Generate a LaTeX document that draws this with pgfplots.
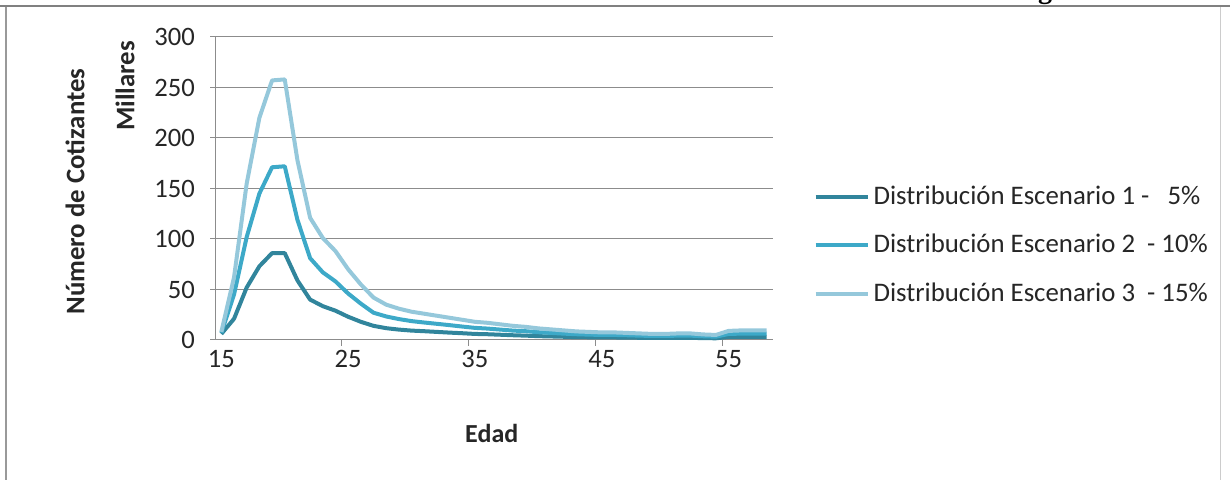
\documentclass[border=0pt]{standalone}
\usepackage{fontspec}
\setmainfont{Carlito}
\newfontfamily\titlefont{Liberation Serif}
\usepackage{pgfplots}
\pgfplotsset{compat=1.18}
\definecolor{sone}{HTML}{31859C}
\definecolor{stwo}{HTML}{3DA9C8}
\definecolor{sthree}{HTML}{95C8DB}
\definecolor{gridg}{HTML}{8C8C8C}
\begin{document}
\begin{tikzpicture}
\path[use as bounding box] (0,0) rectangle (615pt,240pt);
\begin{scope}
\clip (0,0) rectangle (615pt,240pt);
\node[anchor=base, font=\titlefont\bfseries\fontsize{14}{16}\selectfont, inner sep=0pt] at (522.5pt,240.8pt) {g};
\end{scope}
\draw[gray, line width=1.2pt] (0,237pt) -- (615pt,237pt);
\draw[gray!80, line width=0.8pt] (3pt,0) -- (3pt,236.5pt);
\draw[gray!40, line width=0.5pt] (610pt,0) -- (610pt,236.5pt);
\begin{axis}[
  at={(107.5pt,70pt)}, anchor=south west,
  scale only axis, width=279pt, height=151.5pt,
  xmin=14.5, xmax=58.5, ymin=0, ymax=300,
  axis lines=left, axis line style={-, draw=gridg, line width=0.5pt},
  xtick={15,25,35,45,55},
  minor xtick={24.5,34.5,44.5,54.5},
  ytick={0,50,100,150,200,250,300},
  tick align=outside, major tick length=2.5pt, minor tick length=3pt,
  major x tick style={draw=none},
  minor x tick style={draw=gridg, line width=0.5pt},
  major y tick style={draw=gridg, line width=0.5pt},
  ymajorgrids, major grid style={draw=gridg, line width=0.5pt},
  /pgf/number format/assume math mode=true,
  ticklabel style={font=\fontsize{13.3}{15}\selectfont, text=black!85},
  yticklabel style={xshift=-4pt},
  xticklabel style={yshift=1pt},
  clip=false,
  legend style={draw=none, fill=none, at={(1.072,0.313)}, anchor=west,
    font=\fontsize{13.4}{15}\selectfont, text=black!85, row sep=9.5pt, inner sep=0pt},
  legend cell align=left,
  legend image code/.code={\draw[#1, line width=2pt] (0pt,0pt) -- (26pt,0pt);},
  every axis plot/.append style={line width=2pt, line join=round},
]
\addplot[sone] coordinates {
(15,6)(16,21)(17,52)(18,73)(19,86)(20,86)(21,59)(22,40)(23,33.5)(24,29)(25,23)(26,18)(27,14)
(28,11.7)(29,10.3)(30,9.3)(31,8.7)(32,8)(33,7.3)(34,6.7)(35,6)(36,5.7)(37,5.2)(38,4.7)(39,4.3)
(40,3.8)(41,3.5)(42,3.2)(43,2.8)(44,2.7)(45,2.5)(46,2.5)(47,2.3)(48,2.2)(49,2)(50,2)
(51,2.2)(52,2.2)(53,1.8)(54,1.7)(55,3)(56,3.2)(57,3.2)(58,3.2)};
\addlegendentry{Distribución Escenario 1 -\ \ \ 5\%}
\addplot[stwo] coordinates {
(15,7)(16,45)(17,102)(18,145)(19,171)(20,172)(21,119)(22,81)(23,67)(24,58)(25,46)(26,36)(27,27)
(28,23.3)(29,20.7)(30,18.7)(31,17.3)(32,16)(33,14.7)(34,13.3)(35,12)(36,11.3)(37,10.3)(38,9.3)(39,8.7)
(40,7.7)(41,7)(42,6.3)(43,5.7)(44,5.3)(45,5)(46,5)(47,4.7)(48,4.3)(49,4)(50,4)
(51,4.3)(52,4.3)(53,3.7)(54,3.3)(55,6)(56,6.3)(57,6.3)(58,6.3)};
\addlegendentry{Distribución Escenario 2\ \ - 10\%}
\addplot[sthree] coordinates {
(15,8)(16,62)(17,155)(18,220)(19,257)(20,258)(21,178)(22,121)(23,101)(24,88)(25,70)(26,55)(27,42)
(28,35)(29,31)(30,28)(31,26)(32,24)(33,22)(34,20)(35,18)(36,17)(37,15.5)(38,14)(39,13)
(40,11.5)(41,10.5)(42,9.5)(43,8.5)(44,8)(45,7.5)(46,7.5)(47,7)(48,6.5)(49,6)(50,6)
(51,6.5)(52,6.5)(53,5.5)(54,5)(55,9)(56,9.5)(57,9.5)(58,9.5)};
\addlegendentry{Distribución Escenario 3\ \ - 15\%}
\node[rotate=90, font=\bfseries\fontsize{13.4}{15}\selectfont, text=black!85] at (rel axis cs:-0.251,0.49) {Número de Cotizantes};
\node[rotate=90, font=\bfseries\fontsize{13.4}{15}\selectfont, text=black!85] at (rel axis cs:-0.161,0.838) {Millares};
\node[font=\bfseries\fontsize{13}{15}\selectfont, text=black!85] at (rel axis cs:0.496,-0.31) {Edad};
\end{axis}
\end{tikzpicture}
\end{document}
